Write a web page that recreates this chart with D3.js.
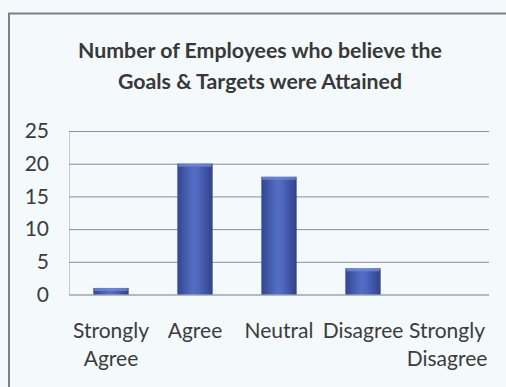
<!DOCTYPE html>
<html>
<head>
<meta charset="utf-8">
<script src="https://cdn.jsdelivr.net/npm/d3@7"></script>
<style>
  html, body { margin: 0; padding: 0; background: #f4f9fb; }
  svg { display: block; }
</style>
</head>
<body>
<script>
// Survey responses: how many employees believe goals & targets were attained
const categories = [["Strongly", "Agree"], ["Agree"], ["Neutral"], ["Disagree"], ["Strongly", "Disagree"]];
const values = [1, 20, 18, 4, 0];
const yTicks = [0, 5, 10, 15, 20, 25];
const titleLines = ["Number of Employees who believe the", "Goals & Targets were Attained"];

const W = 506, H = 387;
const font = "Lato, 'Open Sans', sans-serif";
const plot = { left: 69, right: 489, top: 131, bottom: 294.5 };

const svg = d3.select("body").append("svg").attr("width", W).attr("height", H);

const defs = svg.append("defs");
const grad = defs.append("linearGradient").attr("id", "barFill")
  .attr("x1", "0%").attr("x2", "100%").attr("y1", "0%").attr("y2", "0%");
grad.append("stop").attr("offset", "0%").attr("stop-color", "#33468f");
grad.append("stop").attr("offset", "45%").attr("stop-color", "#556ec5");
grad.append("stop").attr("offset", "60%").attr("stop-color", "#4f67bf");
grad.append("stop").attr("offset", "100%").attr("stop-color", "#2f418a");

// Chart frame (left and top edges visible)
svg.append("path")
  .attr("d", `M9,${H} L9,13.5 L${W},13.5`)
  .attr("fill", "none").attr("stroke", "#7c808c").attr("stroke-width", 2);

// Title
svg.append("g").selectAll("text").data(titleLines).join("text")
  .attr("x", 260).attr("y", (d, i) => 58 + i * 31)
  .attr("text-anchor", "middle")
  .attr("font-family", font).attr("font-weight", "bold").attr("font-size", 21.3)
  .attr("fill", "#383838")
  .text(d => d);

const x = d3.scaleBand()
  .domain(categories.map((d, i) => i))
  .range([plot.left, plot.right])
  .paddingInner(0.58).paddingOuter(0.29);

const y = d3.scaleLinear().domain([0, 25]).range([plot.bottom, plot.top]);

// Gridlines
svg.append("g")
  .attr("transform", `translate(${plot.left},0)`)
  .call(d3.axisLeft(y).tickValues(yTicks).tickSize(-(plot.right - plot.left)).tickFormat(""))
  .call(g => g.select(".domain").attr("stroke", "#c8cbd2").attr("stroke-width", 1))
  .call(g => g.selectAll(".tick line").attr("stroke", "#8c8f99").attr("stroke-width", 1));

// Y tick labels
svg.append("g")
  .attr("transform", `translate(${plot.left},0)`)
  .call(d3.axisLeft(y).tickValues(yTicks).tickSize(0).tickPadding(20))
  .call(g => g.select(".domain").remove())
  .call(g => g.selectAll("text")
    .attr("font-family", font).attr("font-size", 21).attr("fill", "#3c3c3c"));

// Bars
svg.append("g").selectAll("rect").data(values).join("rect")
  .attr("x", (d, i) => x(i))
  .attr("y", d => y(d))
  .attr("width", x.bandwidth())
  .attr("height", d => y(0) - y(d))
  .attr("fill", "url(#barFill)");

// Light cap on bar tops
svg.append("g").selectAll("rect").data(values.map((v, i) => ({ v, i })).filter(d => d.v > 0))
  .join("rect")
  .attr("x", d => x(d.i) + 1)
  .attr("y", d => y(d.v))
  .attr("width", x.bandwidth() - 2)
  .attr("height", 3)
  .attr("fill", "#7088d6").attr("opacity", 0.8);

// Category labels
const xl = svg.append("g").selectAll("text").data(categories).join("text")
  .attr("text-anchor", "middle")
  .attr("font-family", font).attr("font-size", 21).attr("fill", "#3c3c3c");
xl.each(function (lines, i) {
  const t = d3.select(this);
  lines.forEach((line, j) => {
    t.append("tspan")
      .attr("x", x(i) + x.bandwidth() / 2)
      .attr("y", 338 + j * 28)
      .text(line);
  });
});
</script>
</body>
</html>
